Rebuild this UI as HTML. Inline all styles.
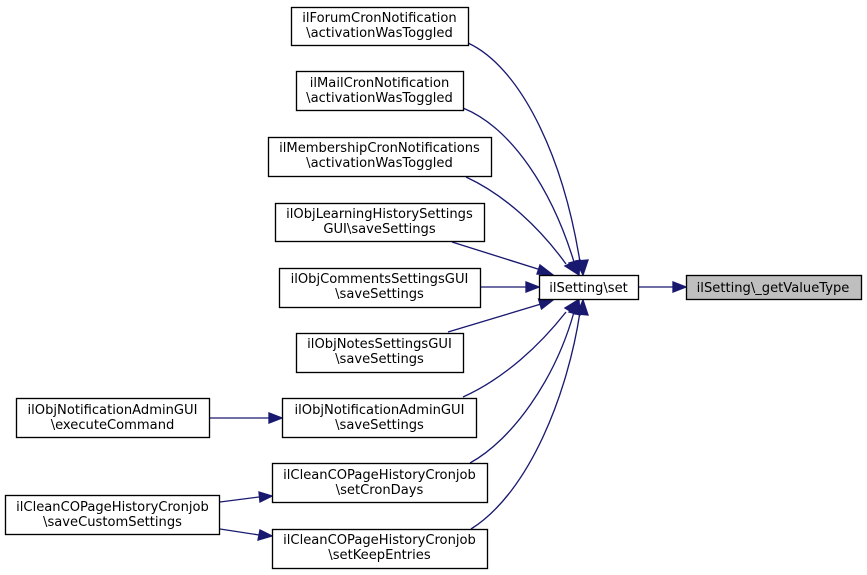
<!DOCTYPE html>
<html><head><meta charset="utf-8"><style>
html,body{margin:0;padding:0;background:#fff}
svg{display:block}
text{font-family:"DejaVu Sans",sans-serif;font-size:13.1px;fill:#000;text-anchor:middle}
.b{fill:#fff;stroke:#000;stroke-width:1.33}
.e{fill:none;stroke:#191970;stroke-width:1.33}
.a{fill:#191970;stroke:#191970;stroke-width:1.33}
</style></head><body>
<svg width="867" height="575" viewBox="0 0 867 575" xmlns="http://www.w3.org/2000/svg">
<rect width="867" height="575" fill="#fff"/>
<path class="e" d="M468,43C518,66 562,150 580,262"/>
<path class="e" d="M463,108C512,128 552,190 574,262"/>
<path class="e" d="M466,177C505,195 540,228 566,264"/>
<path class="e" d="M452,242L541,270"/>
<path class="e" d="M480,287L526,287"/>
<path class="e" d="M448,332L541,304"/>
<path class="e" d="M463,397C505,378 540,345 566,312"/>
<path class="e" d="M470,463C512,440 555,380 574,312"/>
<path class="e" d="M471,529C530,492 568,392 580,312"/>
<path class="e" d="M639,287L673,287"/>
<path class="e" d="M209,418L269,418"/>
<path class="e" d="M220,502L259,497"/>
<path class="e" d="M220,529L259,535"/>
<polygon class="a" points="576,261 588,260 583,275"/>
<polygon class="a" points="569,263 580,260 579,275"/>
<polygon class="a" points="565,266 576,261 579,275"/>
<polygon class="a" points="540,265 537,274 553,275"/>
<polygon class="a" points="526,282 526,292 539,287"/>
<polygon class="a" points="538.500,299 541.500,309 553,300"/>
<polygon class="a" points="565,308 575,314 578,300"/>
<polygon class="a" points="569,312 580,315 579,300"/>
<polygon class="a" points="577,314 588,315 583,300"/>
<polygon class="a" points="673,282 673,292 686,287"/>
<polygon class="a" points="269,413 269,423 282,418"/>
<polygon class="a" points="259,492 260,502 272,496"/>
<polygon class="a" points="260,530 258,540 272,536"/>

<rect class="b" x="291.500" y="7.500" width="177" height="38"/>
<text x="379.500" y="22">ilForumCronNotification</text><text x="379.500" y="37">\activationWasToggled</text>
<rect class="b" x="296.500" y="71.500" width="167" height="39"/>
<text x="379.500" y="87">ilMailCronNotification</text><text x="379.500" y="102">\activationWasToggled</text>
<rect class="b" x="268.500" y="137.500" width="223" height="39"/>
<text x="379.500" y="152">ilMembershipCronNotifications</text><text x="379.500" y="167">\activationWasToggled</text>
<rect class="b" x="275.500" y="203.500" width="209" height="38"/>
<text x="379.500" y="218">ilObjLearningHistorySettings</text><text x="379.500" y="233">GUI\saveSettings</text>
<rect class="b" x="279.500" y="268.500" width="201" height="39"/>
<text x="379.500" y="283">ilObjCommentsSettingsGUI</text><text x="379.500" y="298">\saveSettings</text>
<rect class="b" x="296.500" y="333.500" width="167" height="39"/>
<text x="379.500" y="348">ilObjNotesSettingsGUI</text><text x="379.500" y="363">\saveSettings</text>
<rect class="b" x="282.500" y="398.500" width="194" height="39"/>
<text x="379.500" y="414">ilObjNotificationAdminGUI</text><text x="379.500" y="429">\saveSettings</text>
<rect class="b" x="272.500" y="463.500" width="215" height="39"/>
<text x="379.500" y="479">ilCleanCOPageHistoryCronjob</text><text x="379.500" y="494">\setCronDays</text>
<rect class="b" x="272.500" y="529.500" width="215" height="39"/>
<text x="379.500" y="544">ilCleanCOPageHistoryCronjob</text><text x="379.500" y="559">\setKeepEntries</text>
<rect class="b" x="16.500" y="398.500" width="193" height="39"/>
<text x="112.500" y="414">ilObjNotificationAdminGUI</text><text x="112.500" y="429">\executeCommand</text>
<rect class="b" x="5.500" y="495.500" width="214" height="39"/>
<text x="112.500" y="511">ilCleanCOPageHistoryCronjob</text><text x="112.500" y="526">\saveCustomSettings</text>
<rect class="b" x="539.500" y="275.500" width="99" height="24"/>
<text x="588.500" y="292">ilSetting\set</text>
<rect x="686.500" y="275.500" width="175" height="24" fill="#bfbfbf" stroke="#000" stroke-width="1.33"/>
<text x="773" y="292">ilSetting\_getValueType</text>
</svg>
</body></html>
